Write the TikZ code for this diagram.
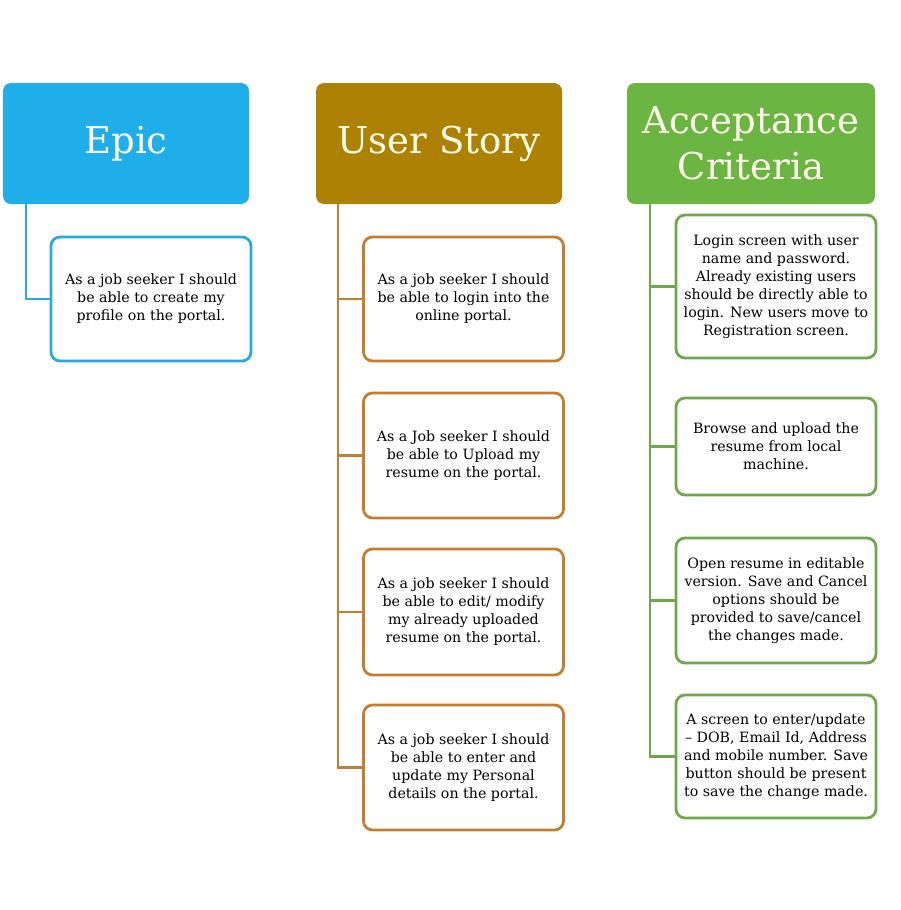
\documentclass[tikz,border=0pt]{standalone}
\usepackage{fontspec}
\setmainfont{DejaVu Serif}
\definecolor{epicC}{HTML}{1FAEEA}
\definecolor{epicL}{HTML}{2AA9E0}
\definecolor{storyC}{HTML}{AD8104}
\definecolor{storyL}{HTML}{C47E30}
\definecolor{accC}{HTML}{6BB543}
\definecolor{accL}{HTML}{6EA84B}
\definecolor{headT}{HTML}{FFFDEB}
\begin{document}
\begin{tikzpicture}[x=1pt,y=-1pt,
  header/.style={rounded corners=8pt,minimum width=246pt,minimum height=121pt,inner sep=0pt,
    text=headT,align=center,font=\fontsize{37}{46}\selectfont},
  card/.style={rounded corners=9pt,draw,line width=2.8pt,fill=white,minimum width=200pt,inner sep=0pt,
    align=center,font=\fontsize{14.2}{18}\selectfont},
  link/.style={line width=2.8pt}]
\useasboundingbox (0,0) rectangle (900,910);
\fill[white] (0,0) rectangle (900,910);
% headers
\node[header,fill=epicC] (epic) at (126,143.5) {Epic};
\node[header,fill=storyC] (story) at (439,143.5) {User Story};
\node[header,fill=accC,minimum width=248pt] (acc) at (751,143.5) {Acceptance\\Criteria};
% connector tops
\coordinate (et) at (26,204);
\coordinate (st) at (338,204);
\coordinate (at) at (650,204);
% epic card
\node[card,draw=epicL,minimum height=124pt] (e1) at (151,299) {As a job seeker I should\\be able to create my\\profile on the portal.};
% story cards
\node[card,draw=storyL,minimum height=124pt] (s1) at (463.5,299) {As a job seeker I should\\be able to login into the\\online portal.};
\node[card,draw=storyL,minimum height=125pt] (s2) at (463.5,455.5) {As a Job seeker I should\\be able to Upload my\\resume on the portal.};
\node[card,draw=storyL,minimum height=126pt] (s3) at (463.5,612) {As a job seeker I should\\be able to edit/ modify\\my already uploaded\\resume on the portal.};
\node[card,draw=storyL,minimum height=125pt] (s4) at (463.5,767.5) {As a job seeker I should\\be able to enter and\\update my Personal\\details on the portal.};
% acceptance cards
\node[card,draw=accL,minimum height=143pt] (a1) at (776,286.5) {Login screen with user\\name and password.\\Already existing users\\should be directly able to\\login. New users move to\\Registration screen.};
\node[card,draw=accL,minimum height=97pt] (a2) at (776,446.5) {Browse and upload the\\resume from local\\machine.};
\node[card,draw=accL,minimum height=125pt] (a3) at (776,600.5) {Open resume in editable\\version. Save and Cancel\\options should be\\provided to save/cancel\\the changes made.};
\node[card,draw=accL,minimum height=123pt] (a4) at (776,756.5) {A screen to enter/update\\– DOB, Email Id, Address\\and mobile number. Save\\button should be present\\to save the change made.};
\draw[link,epicL] (et) |- (e1.west);
\draw[link,storyL] (st) |- (s4.west);
\draw[link,storyL] (st |- s1.west) -- (s1.west);
\draw[link,storyL] (st |- s2.west) -- (s2.west);
\draw[link,storyL] (st |- s3.west) -- (s3.west);
\draw[link,accL] (at) |- (a4.west);
\draw[link,accL] (at |- a1.west) -- (a1.west);
\draw[link,accL] (at |- a2.west) -- (a2.west);
\draw[link,accL] (at |- a3.west) -- (a3.west);
\end{tikzpicture}
\end{document}
